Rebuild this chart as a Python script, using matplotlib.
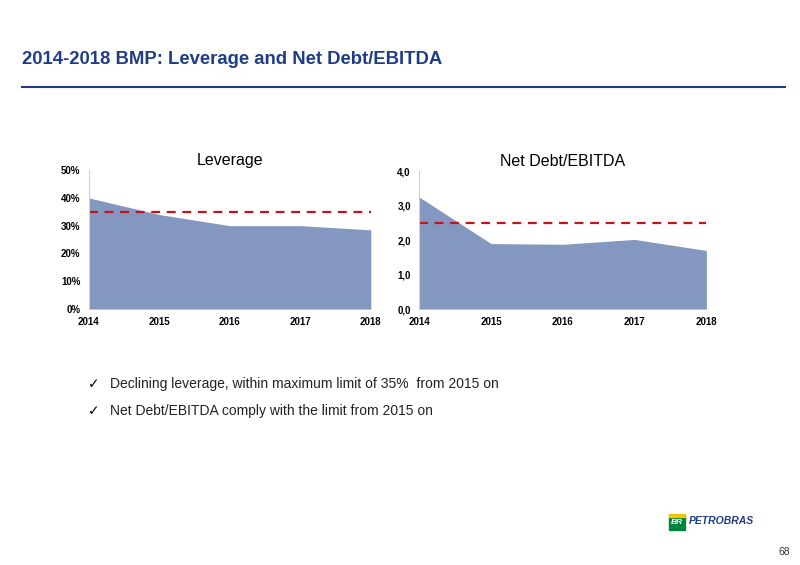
import matplotlib
matplotlib.use("Agg")
import matplotlib.pyplot as plt
from matplotlib.patches import Rectangle

years = [2014, 2015, 2016, 2017, 2018]
leverage = [40, 34, 30, 30, 28.5]
leverage_limit = 35
netdebt = [3.25, 1.9, 1.88, 2.02, 1.7]
netdebt_limit = 2.5
lev_ticks = [0, 10, 20, 30, 40, 50]
nd_ticks = [0, 1, 2, 3, 4]

plt.rcParams['font.family'] = ['Liberation Sans', 'DejaVu Sans']
fig = plt.figure(figsize=(8, 5.65), dpi=100)
fill = '#8497c1'
red = '#c0141e'

def setup(ax, title, ticks, labels):
    ax.set_xlim(2014, 2018)
    ax.set_xticks(years)
    ax.set_xticklabels([str(y) for y in years], fontsize=7, fontweight='bold')
    ax.set_yticks(ticks)
    ax.set_yticklabels(labels, fontsize=7, fontweight='bold')
    ax.set_ylim(ticks[0], ticks[-1])
    for s in ['top', 'right', 'bottom']:
        ax.spines[s].set_visible(False)
    ax.spines['left'].set_color('#d0d0d0')
    ax.tick_params(length=0, pad=6)
    ax.set_title(title, fontsize=11.5, pad=4)

ax1 = fig.add_axes([0.111, 0.453, 0.3525, 0.246])
ax1.fill_between(years, leverage, 0, color=fill, lw=0)
ax1.axhline(leverage_limit, color=red, ls=(0, (4, 3)), lw=1.6)
setup(ax1, 'Leverage', lev_ticks, [f'{t}%' for t in lev_ticks])

ax2 = fig.add_axes([0.524, 0.453, 0.359, 0.244])
ax2.fill_between(years, netdebt, 0, color=fill, lw=0)
ax2.axhline(netdebt_limit, color=red, ls=(0, (4, 3)), lw=1.6)
setup(ax2, 'Net Debt/EBITDA', nd_ticks, [f'{t},0' for t in nd_ticks])

fig.text(0.028, 1 - 60/565, '2014-2018 BMP: Leverage and Net Debt/EBITDA',
         fontsize=13.3, fontweight='bold', color='#1f3c88', va='center')
fig.add_artist(plt.Line2D([22/800, 785/800], [1 - 87/565] * 2, color='#1f3c88', lw=1.5))

bullets = ['Declining leverage, within maximum limit of 35%  from 2015 on',
           'Net Debt/EBITDA comply with the limit from 2015 on']
for i, b in enumerate(bullets):
    y = 1 - (384 + 27 * i) / 565
    fig.text(88/800, y, '✓', fontsize=10, va='center', family='DejaVu Sans')
    fig.text(110/800, y, b, fontsize=10, va='center', color='#222222')

fig.add_artist(Rectangle((669/800, 1 - 530/565), 16/800, 15/565, color='#00843d', transform=fig.transFigure))
fig.add_artist(Rectangle((669/800, 1 - 517/565), 16/800, 3/565, color='#f5c400', transform=fig.transFigure))
fig.text(677/800, 1 - 523/565, 'BR', fontsize=6, color='white', fontweight='bold', style='italic', ha='center', va='center')
fig.text(689/800, 1 - 521/565, 'PETROBRAS', fontsize=7.5, color='#1f3c88', fontweight='bold', style='italic', va='center')
fig.text(790/800, 1 - 552/565, '68', fontsize=7.5, ha='right', va='center', color='#333333')

fig.savefig('out.png', dpi=100)
